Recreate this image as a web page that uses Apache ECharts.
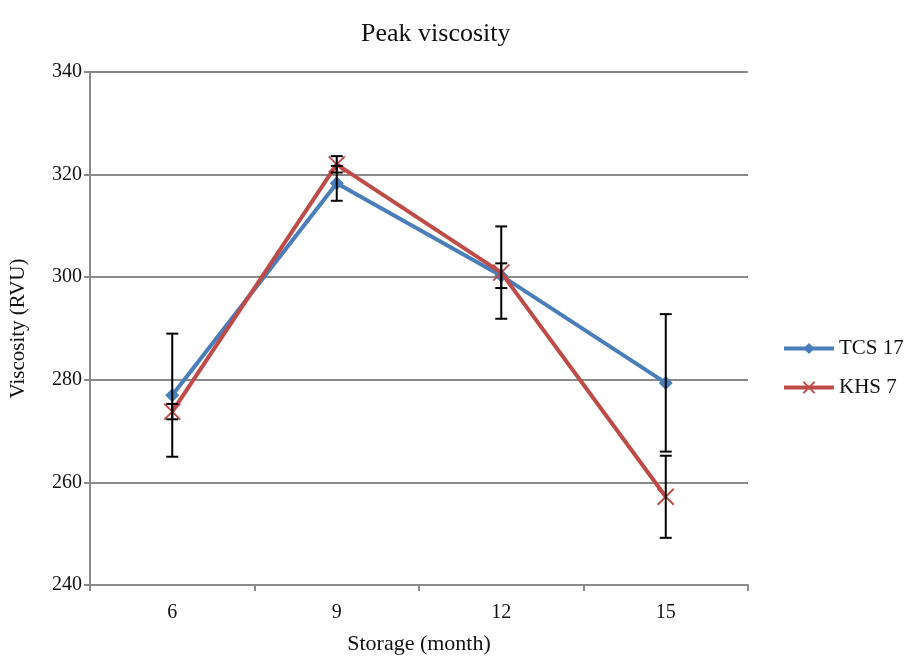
<!DOCTYPE html>
<html>
<head>
<meta charset="utf-8">
<script src="https://cdn.jsdelivr.net/npm/echarts@6/dist/echarts.min.js"></script>
<style>
  html, body { margin: 0; padding: 0; background: #fff; }
  #chart { width: 905px; height: 664px; }
</style>
</head>
<body>
<div id="chart"></div>
<script>
// storage months
var months = ["6", "9", "12", "15"];
// mean peak viscosity (RVU)
var tcs17 = [277, 318.3, 300.3, 279.4];
var khs7 = [273.8, 322, 300.9, 257.2];
// +/- error bar half-widths
var tcsErr = [12, 3.4, 2.4, 13.4];
var khsErr = [1.5, 1.6, 9, 8];

var blue = "#4a7ebb";
var red = "#be4b48";
var serif = "Liberation Serif";

function errData(vals, errs) {
  return vals.map(function (v, i) {
    return [i, v - errs[i], v + errs[i]];
  });
}

function renderErr(params, api) {
  var lo = api.coord([api.value(0), api.value(1)]);
  var hi = api.coord([api.value(0), api.value(2)]);
  var w = 6;
  var style = { stroke: "#000", lineWidth: 2 };
  return {
    type: "group",
    children: [
      { type: "line", shape: { x1: lo[0], y1: lo[1], x2: hi[0], y2: hi[1] }, style: style },
      { type: "line", shape: { x1: lo[0] - w, y1: lo[1], x2: lo[0] + w, y2: lo[1] }, style: style },
      { type: "line", shape: { x1: hi[0] - w, y1: hi[1], x2: hi[0] + w, y2: hi[1] }, style: style }
    ]
  };
}

var chart = echarts.init(document.getElementById("chart"));
chart.setOption({
  animation: false,
  backgroundColor: "#fff",
  title: {
    text: "Peak viscosity",
    left: 356,
    top: 16,
    textStyle: { fontFamily: serif, fontSize: 26, fontWeight: "normal", color: "#111" }
  },
  legend: {
    orient: "vertical",
    left: 777,
    top: 333,
    itemGap: 18,
    itemWidth: 50,
    itemHeight: 14,
    lineStyle: { width: 4 },
    textStyle: { fontFamily: serif, fontSize: 21, color: "#111" },
    data: ["TCS 17", "KHS 7"]
  },
  grid: { left: 90, right: 157, top: 72, bottom: 79, outerBoundsMode: "none", containLabel: false },
  xAxis: {
    type: "category",
    data: months,
    boundaryGap: true,
    name: "Storage (month)",
    nameLocation: "middle",
    nameGap: 48,
    nameTextStyle: { fontFamily: serif, fontSize: 22, color: "#111" },
    axisLine: { lineStyle: { color: "#8a8a8a", width: 2 } },
    axisTick: { show: true, length: 6, lineStyle: { color: "#8a8a8a", width: 2 } },
    axisLabel: { fontFamily: serif, fontSize: 20, color: "#111", margin: 18 }
  },
  yAxis: {
    type: "value",
    min: 240,
    max: 340,
    interval: 20,
    name: "Viscosity (RVU)",
    nameLocation: "middle",
    nameGap: 61,
    nameTextStyle: { fontFamily: serif, fontSize: 21, color: "#111" },
    axisLine: { show: true, lineStyle: { color: "#8a8a8a", width: 2 } },
    axisTick: { show: true, length: 6, lineStyle: { color: "#8a8a8a", width: 2 } },
    axisLabel: { fontFamily: serif, fontSize: 20, color: "#111", margin: 8 },
    splitLine: { lineStyle: { color: "#8a8a8a", width: 2 } }
  },
  series: [
    {
      name: "TCS 17",
      type: "line",
      data: tcs17,
      symbol: "diamond",
      symbolSize: 14,
      color: blue,
      lineStyle: { width: 4, color: blue },
      itemStyle: { color: blue },
      z: 3
    },
    {
      name: "KHS 7",
      type: "line",
      data: khs7,
      symbol: "path://M0,0L10,10M10,0L0,10",
      symbolSize: 16,
      color: red,
      lineStyle: { width: 4, color: red },
      itemStyle: { color: red, borderColor: red, borderWidth: 2 },
      z: 4
    },
    {
      type: "custom",
      renderItem: renderErr,
      data: errData(tcs17, tcsErr),
      z: 10,
      silent: true
    },
    {
      type: "custom",
      renderItem: renderErr,
      data: errData(khs7, khsErr),
      z: 10,
      silent: true
    }
  ]
});
</script>
</body>
</html>
